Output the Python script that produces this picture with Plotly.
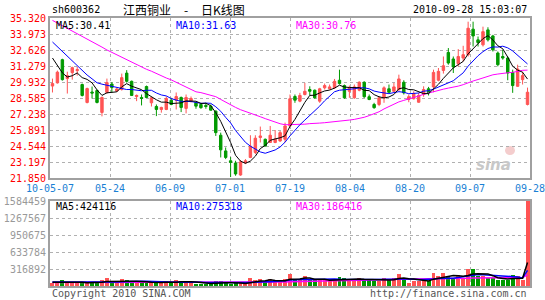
import numpy as np
import pandas as pd
import plotly.graph_objects as go

# ---------------- data ----------------
opens = [29.59, 29.86, 31.81, 30.22, 30.72, 30.89, 29.72, 28.21, 29.09, 29.21,
         27.37, 29.05, 29.76, 29.17, 29.30, 30.68, 29.99, 28.71, 28.63, 29.55,
         28.18, 27.87, 27.62, 27.62, 28.40, 28.40, 28.63, 27.71, 28.32, 28.21,
         28.04, 27.96, 27.90, 27.48, 25.45, 24.13, 23.30, 23.11, 22.10, 23.11,
         23.58, 24.00, 25.26, 25.11, 24.84, 24.84, 24.97, 25.11, 26.23, 28.71,
         28.32, 28.88, 29.30, 29.24, 28.32, 29.44, 29.36, 29.44, 30.08, 29.63,
         29.15, 28.60, 29.24, 29.91, 28.69, 28.04, 28.04, 28.60, 29.36, 29.15,
         29.30, 29.91, 28.46, 28.52, 28.23, 28.88, 29.36, 29.52, 30.08, 30.91,
         32.42, 31.87, 31.47, 31.95, 32.23, 34.38, 33.48, 33.06, 34.32, 33.81,
         32.37, 32.08, 31.95, 30.74, 29.57, 30.13, 28.04]
highs = [30.22, 30.89, 31.89, 30.80, 31.22, 31.22, 29.80, 29.46, 29.55, 29.30,
         28.71, 30.22, 29.92, 29.46, 30.64, 30.93, 30.05, 28.88, 28.88, 29.63,
         28.67, 28.04, 27.85, 28.71, 28.60, 29.05, 28.71, 28.88, 28.71, 28.23,
         28.18, 28.18, 28.04, 27.54, 25.67, 24.42, 23.61, 23.30, 23.36, 23.44,
         25.45, 25.45, 26.18, 25.17, 26.23, 25.89, 25.81, 26.51, 28.88, 28.88,
         29.02, 29.86, 29.57, 29.30, 29.44, 29.80, 29.72, 30.19, 30.97, 29.72,
         29.63, 29.72, 29.99, 29.99, 28.88, 28.18, 28.74, 29.57, 29.72, 29.86,
         30.55, 30.08, 28.88, 29.15, 29.02, 29.57, 29.52, 30.97, 31.11, 32.08,
         32.79, 32.08, 32.70, 32.98, 35.01, 35.01, 33.76, 34.59, 34.54, 33.90,
         32.50, 32.64, 32.08, 30.97, 31.39, 30.80, 29.46]
lows = [29.05, 29.80, 30.05, 28.96, 30.13, 30.47, 28.71, 28.13, 28.54, 28.13,
        27.04, 28.96, 29.05, 29.09, 29.21, 29.88, 28.75, 28.32, 27.96, 28.59,
        27.87, 27.06, 27.35, 27.56, 27.98, 27.62, 27.40, 27.29, 28.21, 27.68,
        27.68, 27.68, 27.54, 25.39, 23.58, 23.44, 21.93, 22.04, 22.04, 23.02,
        23.52, 23.86, 24.84, 24.50, 24.80, 24.78, 24.89, 24.84, 26.18, 28.18,
        28.23, 28.80, 28.80, 28.54, 28.18, 29.30, 29.30, 29.36, 29.72, 28.52,
        28.60, 28.52, 29.15, 28.60, 28.40, 27.68, 27.90, 28.18, 29.02, 29.07,
        29.15, 28.88, 28.23, 28.46, 28.18, 28.69, 28.80, 29.07, 29.99, 30.64,
        31.39, 30.69, 31.25, 31.66, 32.08, 32.92, 32.92, 32.92, 33.34, 32.50,
        31.25, 31.81, 30.08, 29.02, 29.52, 29.72, 27.96]
closes = [29.80, 30.76, 30.13, 30.47, 31.14, 30.97, 28.80, 29.38, 29.00, 28.21,
          28.63, 29.88, 29.46, 29.34, 30.30, 29.99, 28.80, 28.80, 28.54, 28.63,
          28.60, 27.62, 27.79, 28.54, 28.04, 28.71, 27.79, 28.63, 28.54, 27.90,
          27.77, 27.87, 27.56, 25.67, 24.22, 23.58, 23.16, 22.19, 23.21, 23.30,
          24.53, 25.20, 25.39, 24.55, 25.45, 25.11, 25.67, 26.23, 28.52, 28.40,
          28.80, 29.15, 29.15, 28.60, 29.36, 29.63, 29.52, 29.99, 29.80, 28.60,
          29.44, 29.52, 29.91, 28.69, 28.46, 27.77, 28.60, 29.44, 29.07, 29.52,
          30.19, 29.02, 28.69, 28.96, 28.80, 29.30, 29.02, 30.74, 30.83, 31.30,
          31.53, 31.20, 32.08, 32.23, 34.46, 33.81, 33.25, 34.17, 33.48, 32.64,
          31.39, 31.95, 30.69, 29.63, 31.03, 30.47, 29.07]
volumes = [65000, 62000, 105000, 62000, 60000, 55000, 62000, 60000, 55000, 62000,
           107000, 140000, 65000, 60000, 122000, 107000, 88000, 60000, 55000, 88000,
           62000, 55000, 55000, 84000, 62000, 103000, 88000, 84000, 62000, 45000,
           40000, 38000, 42000, 88000, 88000, 50000, 45000, 50000, 48000, 45000,
           144000, 107000, 125000, 75000, 125000, 84000, 84000, 125000, 219000, 125000,
           103000, 181000, 112000, 103000, 125000, 103000, 103000, 125000, 163000, 144000,
           103000, 103000, 144000, 125000, 118000, 94000, 94000, 144000, 103000, 144000,
           219000, 144000, 62000, 94000, 94000, 118000, 94000, 238000, 181000, 238000,
           181000, 144000, 200000, 144000, 312000, 312000, 181000, 181000, 144000, 144000,
           118000, 118000, 118000, 200000, 181000, 112000, 1584459]

# moving-average values before enough history exists
ma5_head = [31.95, 31.30, 30.70, 30.35]
ma10_head = [33.30, 32.90, 32.48, 32.10, 31.70, 31.32, 30.90, 30.52, 30.20]
ma30_head = [35.12, 34.90, 34.66, 34.45, 34.20, 33.99, 33.77, 33.52, 33.30, 33.10,
             32.87, 32.63, 32.43, 32.20, 31.96, 31.76, 31.57, 31.37, 31.21, 31.00,
             30.84, 30.63, 30.48, 30.27, 30.11, 29.91, 29.74, 29.54, 29.37]
vma5_head = [70000, 72000, 74000, 70000]
vma10_head = [74000, 73000, 72000, 73000, 71000, 70000, 71000, 69000, 68000]
vma30_head = [64000, 64000, 65000, 65000, 64000, 65000, 66000, 65000, 66000, 66000,
              67000, 67000, 68000, 68000, 69000, 69000, 70000, 69000, 70000, 70000,
              70000, 71000, 71000, 71000, 72000, 72000, 72000, 73000, 72000]

x_labels = ["10-05-07", "05-24", "06-09", "07-01", "07-19", "08-04", "08-20", "09-07", "09-28"]
price_ticks = ["21.850", "23.197", "24.544", "25.891", "27.238", "28.585",
               "29.932", "31.279", "32.626", "33.973", "35.320"]
vol_ticks = ["316892", "633784", "950675", "1267567", "1584459"]
vol_max = 1584459

code = "sh600362"
name = "江西铜业"
chart_kind = "日K线图"
timestamp = "2010-09-28 15:03:07"
price_ma_text = ["MA5:30.41", "MA10:31.63", "MA30:30.76"]
vol_ma_text = ["MA5:424116", "MA10:275318", "MA30:186416"]

# ---------------- helpers ----------------
def moving(vals, n, head):
    s = pd.Series(vals, dtype=float).rolling(n).mean().to_numpy()
    s[:n - 1] = head
    return s

n = len(closes)
idx = np.arange(n)
RED = "#FF5454"
GREEN = "#009A00"
GRID = "#B0B0B0"
FRAME = "#A0A0A0"
MONO = "DejaVu Sans Mono"
W, H = 545, 300

def px(x):
    return x / W

def py(y):
    return 1 - y / H

fig = go.Figure()

fig.add_trace(go.Candlestick(
    x=idx, open=opens, high=highs, low=lows, close=closes,
    increasing=dict(line=dict(color=RED, width=1), fillcolor=RED),
    decreasing=dict(line=dict(color=GREEN, width=1), fillcolor=GREEN),
    whiskerwidth=0, showlegend=False, hoverinfo="skip", xaxis="x", yaxis="y"))

for vals, nn, head, col in [(closes, 30, ma30_head, "#FF00FF"),
                            (closes, 10, ma10_head, "#0000FF"),
                            (closes, 5, ma5_head, "#000000")]:
    fig.add_trace(go.Scatter(x=idx, y=moving(vals, nn, head), mode="lines",
                             line=dict(color=col, width=1), showlegend=False,
                             hoverinfo="skip", xaxis="x", yaxis="y"))

bar_colors = [RED if c >= o else GREEN for o, c in zip(opens, closes)]
fig.add_trace(go.Bar(x=idx, y=volumes, marker=dict(color=bar_colors, line=dict(width=0)),
                     width=0.8, showlegend=False, hoverinfo="skip", xaxis="x2", yaxis="y2"))

for nn, head, col in [(30, vma30_head, "#FF00FF"), (10, vma10_head, "#0000FF"),
                      (5, vma5_head, "#000000")]:
    fig.add_trace(go.Scatter(x=idx, y=moving(volumes, nn, head), mode="lines",
                             line=dict(color=col, width=1.5), showlegend=False,
                             hoverinfo="skip", xaxis="x2", yaxis="y2"))

xt = np.linspace(-0.5, n - 0.5, len(x_labels))
xt[0] += 1e-6
xt[-1] -= 1e-6
xdom = [px(50), px(530)]
common_x = dict(range=[-0.5, n - 0.5], domain=xdom, showgrid=True, griddash="dot",
                gridcolor=GRID, gridwidth=1, showline=True, mirror=True,
                linecolor=FRAME, linewidth=2, zeroline=False, tickvals=xt, ticks="",
                fixedrange=True, automargin=False, ticklabeloverflow="allow")
common_y = dict(showgrid=True, griddash="dot", gridcolor=GRID, gridwidth=1,
                showline=True, mirror=True, linecolor=FRAME, linewidth=2,
                zeroline=False, ticks="", fixedrange=True, automargin=False,
                ticklabeloverflow="allow")

fig.update_layout(
    width=W, height=H, margin=dict(l=0, r=0, t=0, b=0, autoexpand=False), autosize=False,
    paper_bgcolor="white", plot_bgcolor="white", bargap=0,
    xaxis=dict(**common_x, anchor="y", ticktext=x_labels,
               tickfont=dict(family=MONO, size=10, color="#1A7FD4"),
               rangeslider=dict(visible=False)),
    yaxis=dict(**common_y, domain=[py(178), py(18)],
               range=[float(price_ticks[0]), float(price_ticks[-1])],
               tickvals=[float(t) for t in price_ticks], ticktext=price_ticks,
               tickfont=dict(family=MONO, size=10, color="#FF0000")),
    xaxis2=dict(**common_x, anchor="y2", matches="x", showticklabels=False),
    yaxis2=dict(**common_y, domain=[py(286), py(201)], range=[0, vol_max],
                tickvals=[int(t) for t in vol_ticks], ticktext=vol_ticks,
                tickfont=dict(family=MONO, size=10, color="#999999")),
)

def note(text, x, y, color="#000000", size=10, anchor="left", family=MONO):
    fig.add_annotation(text=text, x=px(x), y=py(y), xref="paper", yref="paper",
                       xanchor=anchor, yanchor="middle", showarrow=False,
                       font=dict(family=family, size=size, color=color))

CJK = "Noto Sans CJK SC"
note(code, 50, 10)
note(name, 121, 10, size=12, family=CJK)
note("-", 182, 10, size=12, family=CJK)
note(chart_kind, 199, 10, size=12, family=CJK)
note(timestamp, 529, 10, anchor="right")

ma_cols = ["#000000", "#0000FF", "#FF00FF"]
for t, c, x in zip(price_ma_text, ma_cols, [54, 174, 294]):
    note(t, x, 25, color=c)
for t, c, x in zip(vol_ma_text, ma_cols, [54, 174, 294]):
    note(t, x, 207, color=c)

note("Copyright 2010 SINA.COM", 50, 293, color="#555555")
note("http://finance.sina.com.cn", 529, 293, color="#555555", anchor="right")

# faint sina watermark
fig.add_shape(type="circle", xref="paper", yref="paper",
              x0=px(505), x1=px(515), y0=py(155), y1=py(146),
              fillcolor="#F4CDCD", line=dict(width=0), layer="below")
fig.add_annotation(text="<b><i>sina</i></b>", x=px(513), y=py(165), xref="paper",
                   yref="paper", showarrow=False,
                   font=dict(family="DejaVu Sans", size=15, color="#C8C8C8"))

fig.write_html("out.html")
